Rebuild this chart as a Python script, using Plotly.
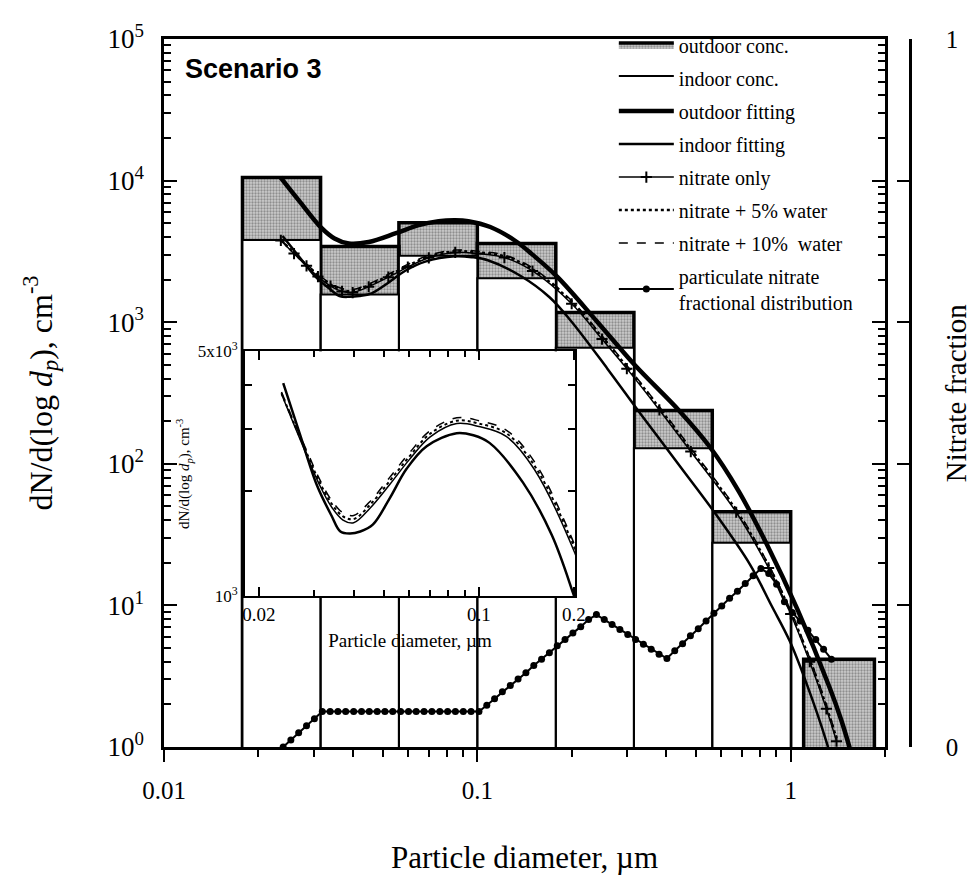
import math
import plotly.graph_objects as go

# size bins (um) and concentrations dN/dlogdp (cm^-3)
bin_lo = [0.0178, 0.0316, 0.0562, 0.100, 0.178, 0.316, 0.562, 1.10]
bin_hi = [0.0316, 0.0562, 0.100, 0.178, 0.316, 0.562, 1.00, 1.85]
outdoor_conc = [10500, 3420, 5030, 3600, 1170, 238, 45.9, 4.17]
indoor_conc = [3800, 1570, 2950, 2040, 660, 129, 27.7, None]

# fitted curves
out_fit_x = [0.0235, 0.0270, 0.0318, 0.0350, 0.0389, 0.0450, 0.0550, 0.0650, 0.0752,
             0.0850, 0.0936, 0.110, 0.132, 0.150, 0.180, 0.242, 0.318, 0.440, 0.550,
             0.680, 0.839, 1.05, 1.333, 1.45, 1.55]
out_fit_y = [10600, 7200, 4630, 3900, 3590, 3680, 4250, 4850, 5170, 5250, 5170, 4700,
             3760, 3000, 2090, 1000, 498, 238, 133, 65, 27.0, 9.4, 2.61, 1.55, 0.95]

in_fit_x = [0.0239, 0.0270, 0.0306, 0.0340, 0.0363, 0.0389, 0.0420, 0.0460, 0.0520,
            0.0589, 0.0682, 0.0849, 0.0960, 0.108, 0.138, 0.170, 0.199, 0.260, 0.332,
            0.450, 0.570, 0.741, 0.870, 0.993, 1.124, 1.30, 1.40]
in_fit_y = [4060, 2900, 2070, 1700, 1530, 1510, 1530, 1600, 1900, 2310, 2680, 2920,
            2880, 2740, 2110, 1500, 1020, 470, 225, 92, 45.7, 19.5, 9.9, 5.6, 2.8,
            1.09, 0.6]

# modelled nitrate cases
nit_x = [0.0236, 0.0260, 0.0285, 0.0310, 0.0340, 0.0370, 0.0400, 0.0450, 0.0520,
         0.0600, 0.0700, 0.0850, 0.100, 0.122, 0.150, 0.200, 0.250, 0.300, 0.381,
         0.480, 0.670, 0.850, 1.00, 1.15, 1.30, 1.40]
nit_only = [3780, 3050, 2500, 2100, 1800, 1650, 1620, 1780, 2080, 2450, 2850, 3110,
            3050, 2860, 2300, 1350, 760, 470, 240, 122, 45.5, 18.4, 8.7, 4.0, 1.86, 1.1]
nit_5w = [3800, 3080, 2540, 2140, 1840, 1690, 1660, 1820, 2130, 2500, 2910, 3170,
          3110, 2920, 2360, 1390, 785, 485, 248, 126, 47.0, 19.0, 9.0, 4.15, 1.93, 1.15]
nit_10w = [3830, 3110, 2580, 2180, 1880, 1730, 1700, 1860, 2180, 2560, 2970, 3230,
           3170, 2980, 2420, 1420, 800, 495, 253, 129, 48.0, 19.4, 9.2, 4.25, 1.98, 1.18]

# particulate nitrate fractional distribution (right axis)
frac_x = [0.0240, 0.0254, 0.0269, 0.0285, 0.0302, 0.0320, 0.0339, 0.0359, 0.0380,
          0.0403, 0.0427, 0.0452, 0.0479, 0.0507, 0.0537, 0.0569, 0.0603, 0.0638,
          0.0676, 0.0716, 0.0759, 0.0804, 0.0851, 0.0902, 0.0955, 0.1012, 0.1072,
          0.1135, 0.1202, 0.1274, 0.1349, 0.1429, 0.1514, 0.1603, 0.1698, 0.1799,
          0.1905, 0.2018, 0.2138, 0.2265, 0.2399, 0.2541, 0.2692, 0.2851, 0.3020,
          0.3199, 0.3388, 0.3589, 0.3802, 0.4027, 0.4266, 0.4519, 0.4786, 0.5070,
          0.5370, 0.5689, 0.6026, 0.6383, 0.6761, 0.7161, 0.7586, 0.8035, 0.8511,
          0.9016, 0.9550, 1.0116, 1.0715, 1.1350, 1.2023, 1.2735, 1.3490]
frac_y = [0.000, 0.010, 0.020, 0.030, 0.040, 0.050, 0.050, 0.050, 0.050, 0.050,
          0.050, 0.050, 0.050, 0.050, 0.050, 0.050, 0.050, 0.050, 0.050, 0.050,
          0.050, 0.050, 0.050, 0.050, 0.050, 0.050, 0.059, 0.068, 0.078, 0.087,
          0.096, 0.105, 0.115, 0.124, 0.133, 0.143, 0.152, 0.161, 0.170, 0.180,
          0.187, 0.180, 0.173, 0.166, 0.159, 0.152, 0.145, 0.138, 0.131, 0.125,
          0.136, 0.146, 0.157, 0.167, 0.178, 0.189, 0.199, 0.210, 0.220, 0.231,
          0.242, 0.252, 0.245, 0.230, 0.205, 0.190, 0.178, 0.165, 0.152, 0.138,
          0.124]

SERIF = "Liberation Serif, Times New Roman, serif"
BASE = 0.9  # bars start below the 10^0 floor


def bar_outline(lo, hi, tops):
    xs, ys = [], []
    for a, b, t in zip(lo, hi, tops):
        if t is None:
            continue
        xs += [a, a, b, b, a, None]
        ys += [BASE, t, t, BASE, BASE, None]
    return xs, ys


fig = go.Figure()

ox, oy = bar_outline(bin_lo, bin_hi, outdoor_conc)
fig.add_trace(go.Scatter(x=ox, y=oy, mode="lines", fill="toself", name="outdoor conc.",
                         legendgroup="a",
                         line=dict(color="black", width=3.5),
                         fillcolor="#bdbdbd",
                         fillpattern=dict(shape=".", fgcolor="#505050", bgcolor="#cccccc",
                                          size=3, solidity=0.45)))
ix, iy = bar_outline(bin_lo, bin_hi, indoor_conc)
fig.add_trace(go.Scatter(x=ix, y=iy, mode="lines", fill="toself", name="indoor conc.",
                         legendgroup="b",
                         line=dict(color="black", width=2), fillcolor="white"))

fig.add_trace(go.Scatter(x=out_fit_x, y=out_fit_y, mode="lines", name="outdoor fitting",
                         legendgroup="c",
                         line=dict(color="black", width=4.5, shape="spline")))
fig.add_trace(go.Scatter(x=in_fit_x, y=in_fit_y, mode="lines", name="indoor fitting",
                         legendgroup="d",
                         line=dict(color="black", width=2.5, shape="spline")))
fig.add_trace(go.Scatter(x=nit_x, y=nit_only, mode="lines+markers", name="nitrate only",
                         legendgroup="e",
                         line=dict(color="black", width=1.5, shape="spline"),
                         marker=dict(symbol="cross-thin", size=8,
                                     line=dict(color="black", width=2))))
fig.add_trace(go.Scatter(x=nit_x, y=nit_5w, mode="lines", name="nitrate + 5% water",
                         legendgroup="f",
                         line=dict(color="black", width=2.5, dash="dot", shape="spline")))
fig.add_trace(go.Scatter(x=nit_x, y=nit_10w, mode="lines", name="nitrate + 10%  water",
                         legendgroup="g",
                         line=dict(color="black", width=1.5, dash="dash", shape="spline")))
fig.add_trace(go.Scatter(x=frac_x, y=frac_y, yaxis="y2", mode="lines+markers",
                         name="particulate nitrate<br>fractional distribution",
                         legendgroup="h",
                         line=dict(color="black", width=2),
                         marker=dict(symbol="circle", size=7, color="black")))

# inset: fitted indoor curve and nitrate cases, zoomed
for xs, ys, ln in [
    (in_fit_x, in_fit_y, dict(color="black", width=2.5, shape="spline")),
    (nit_x, nit_only, dict(color="black", width=1.5, shape="spline")),
    (nit_x, nit_5w, dict(color="black", width=2, dash="dot", shape="spline")),
    (nit_x, nit_10w, dict(color="black", width=1.5, dash="dash", shape="spline")),
]:
    fig.add_trace(go.Scatter(x=xs, y=ys, xaxis="x3", yaxis="y3", mode="lines",
                             line=ln, showlegend=False))

dec_minor = [m * 10 ** e for e in range(-2, 1) for m in range(2, 10)] + [2]
y_minor = [m * 10 ** e for e in range(0, 5) for m in range(2, 10)]

# page has an 8px body margin, so the figure is 8px smaller than the window
fig.update_layout(
    width=969, height=882,
    margin=dict(l=156, r=67, t=16, b=143),
    paper_bgcolor="white", plot_bgcolor="white",
    font=dict(family=SERIF, color="black"),
    showlegend=True,
    legend=dict(x=0.603, y=1.019, xanchor="left", yanchor="top",
                bgcolor="rgba(0,0,0,0)", font=dict(family=SERIF, size=20),
                itemwidth=55, tracegroupgap=4, traceorder="grouped"),
    xaxis=dict(type="log", range=[-2, math.log10(2)], domain=[0, 0.9665],
               tickvals=[0.01, 0.1, 1], ticktext=["0.01", "0.1", "1"],
               ticks="outside", ticklen=12, tickwidth=2, tickcolor="black",
               minor=dict(tickmode="array", tickvals=dec_minor, ticks="outside",
                          ticklen=7, tickwidth=1.5, tickcolor="black", showgrid=False),
               showline=True, linewidth=2.5, linecolor="black", mirror=True,
               showgrid=False, zeroline=False, tickfont=dict(size=25),
               ticklabelstandoff=7,
               title=dict(text="Particle diameter, \u00b5m", font=dict(size=31), standoff=44)),
    xaxis4=dict(type="log", range=[-2, math.log10(2)], overlaying="x", side="top",
                anchor="y", tickvals=[0.01, 0.1, 1], showticklabels=False,
                ticks="inside", ticklen=10, tickwidth=2, tickcolor="black",
                minor=dict(tickmode="array", tickvals=dec_minor, ticks="inside",
                           ticklen=7, tickwidth=1.5, tickcolor="black", showgrid=False),
                showline=False, showgrid=False, zeroline=False),
    yaxis=dict(type="log", range=[0, 5],
               tickvals=[1, 10, 100, 1000, 10000, 100000],
               ticktext=["10<sup>0</sup>", "10<sup>1</sup>", "10<sup>2</sup>",
                         "10<sup>3</sup>", "10<sup>4</sup>", "10<sup>5</sup>"],
               ticks="inside", ticklen=13, tickwidth=2, tickcolor="black",
               minor=dict(tickmode="array", tickvals=y_minor, ticks="inside",
                          ticklen=7, tickwidth=1.5, tickcolor="black", showgrid=False),
               showline=True, linewidth=2.5, linecolor="black", mirror="ticks",
               showgrid=False, zeroline=False, tickfont=dict(size=27),
               ticklabelstandoff=12,
               title=dict(text="dN/d(log <i>d</i><sub><i>p</i></sub>), cm<sup>-3</sup>",
                          font=dict(size=32), standoff=46)),
    yaxis2=dict(overlaying="y", side="right", anchor="free", position=1,
                range=[0, 1], tickvals=[0, 0.2, 0.4, 0.6, 0.8, 1],
                ticktext=["0", "", "", "", "", "1"],
                ticks="inside", ticklen=12, tickwidth=2, tickcolor="black",
                showline=True, linewidth=2.5, linecolor="black",
                showgrid=False, zeroline=False, tickfont=dict(size=25),
                ticklabelstandoff=29),
    xaxis3=dict(type="log", domain=[0.1086, 0.5509], anchor="y3",
                range=[-1.7429, -0.6952],
                tickvals=[0.02, 0.1, 0.2], ticktext=["0.02", "0.1", "0.2"],
                ticks="inside", ticklen=9, tickwidth=1.5, tickcolor="black",
                minor=dict(tickmode="array", tickvals=[0.03, 0.04, 0.05, 0.06, 0.07, 0.08, 0.09],
                           ticks="inside", ticklen=6, tickwidth=1.5, tickcolor="black",
                           showgrid=False),
                showline=True, linewidth=2, linecolor="black", mirror="ticks",
                showgrid=False, zeroline=False, tickfont=dict(size=19),
                title=dict(text="Particle diameter, \u00b5m", font=dict(size=19), standoff=10)),
    yaxis3=dict(type="log", domain=[0.2130, 0.5588], anchor="x3",
                range=[3, math.log10(5000)],
                tickvals=[1000, 5000], ticktext=["10<sup>3</sup>", "5x10<sup>3</sup>"],
                ticks="inside", ticklen=8, tickwidth=1.5, tickcolor="black",
                minor=dict(tickmode="array", tickvals=[2000, 3000, 4000], ticks="inside",
                           ticklen=7, tickwidth=1.5, tickcolor="black", showgrid=False),
                showline=True, linewidth=2, linecolor="black", mirror="ticks",
                showgrid=False, zeroline=False, tickfont=dict(size=17),
                ticklabelstandoff=2,
                title=dict(text="dN/d(log <i>d</i><sub><i>p</i></sub>), cm<sup>-3</sup>",
                           font=dict(size=15), standoff=4)),
    annotations=[
        dict(text="<b>Scenario 3</b>", x=0.0255, y=0.957, xref="paper", yref="paper",
             xanchor="left", yanchor="middle", showarrow=False,
             font=dict(family="Liberation Sans, Arial, sans-serif", size=27)),
        dict(text="Nitrate fraction", x=1.062, y=0.5, xref="paper", yref="paper",
             xanchor="center", yanchor="middle", textangle=-90, showarrow=False,
             font=dict(family=SERIF, size=29)),
    ],
)

fig.write_html("out.html")
